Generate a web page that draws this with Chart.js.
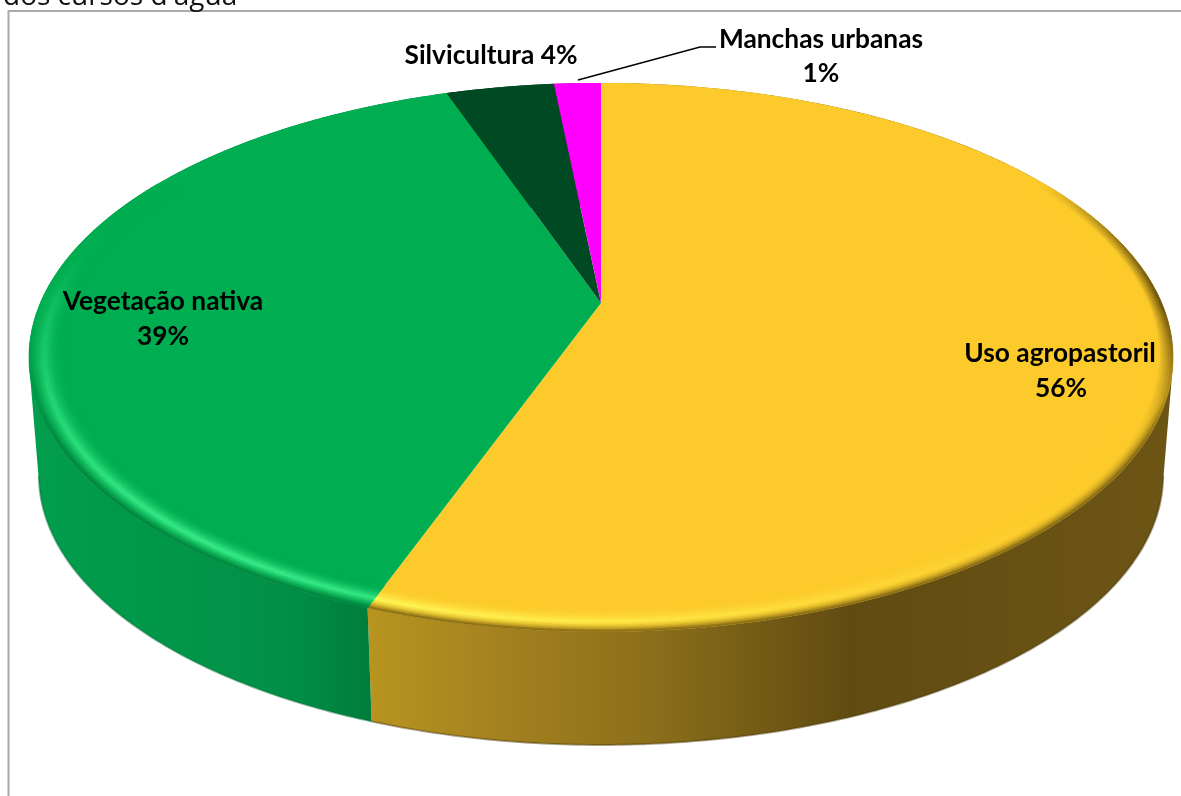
<!DOCTYPE html>
<html>
<head>
<meta charset="utf-8">
<title>Uso do solo</title>
<script src="https://cdn.jsdelivr.net/npm/chart.js@4/dist/chart.umd.min.js"></script>
<style>
  html, body { margin: 0; padding: 0; background: #fff; overflow: hidden; }
  canvas { display: block; }
</style>
</head>
<body>
<canvas id="pie" width="1181" height="796"></canvas>
<script>
// values (the printed labels are rounded)
const categories = ['Uso agropastoril', 'Vegetação nativa', 'Silvicultura', 'Manchas urbanas'];
const shares = [55.5, 39.2, 3.7, 1.6];
const printedPercent = ['56%', '39%', '4%', '1%'];
const sliceColors = ['#fccb2b', '#00ad50', '#004a23', '#ff00ff'];

// wall shading per slice, stops along the page width
const wallStops = [
  [[0.31, '#b8951f'], [0.42, '#a58220'], [0.55, '#8c6f1a'], [0.72, '#604b11'], [0.85, '#665013'], [1, '#6d5515']],
  [[0, '#03a04e'], [0.1, '#00994a'], [0.2, '#029348'], [0.26, '#008c44'], [0.315, '#007b3b']],
  [[0, '#003318'], [1, '#003318']],
  [[0, '#a000a0'], [1, '#a000a0']]
];
const edgeTint = [[255, 250, 90], [60, 240, 140], [0, 110, 55], [255, 120, 255]];
const edgeDark = [[74, 56, 8], [0, 110, 50], [0, 40, 20], [120, 0, 120]];

const view = { k: 0.198, a: 560.7, b: 263.7, x0: 601, y0: 303 };
const floorView = { k: 0.198, a: 551, b: 259, x0: 601, y0: 422 };
const bevel = 0.06;

function project(v, angle, r) {
  const cu = Math.cos(angle) * r, cv = Math.sin(angle) * r;
  const w = 1 - v.k * cv;
  return [v.x0 + v.a * cu / w, v.y0 + v.b * cv / w];
}

function hex(c) {
  const n = parseInt(c.slice(1), 16);
  return [n >> 16, (n >> 8) & 255, n & 255];
}

function clamp01(t) {
  return Math.max(0, Math.min(1, t));
}

function mix(a, b, t) {
  t = clamp01(t);
  return a.map((x, i) => x + (b[i] - x) * t);
}

function css(c) {
  return 'rgb(' + c.map(Math.round).join(',') + ')';
}

function rimPath(ctx, v, a0, a1, r, first) {
  const n = Math.max(2, Math.ceil(Math.abs(a1 - a0) / 0.01));
  for (let i = 0; i <= n; i++) {
    const p = project(v, a0 + (a1 - a0) * i / n, r);
    if (first && i === 0) ctx.moveTo(p[0], p[1]); else ctx.lineTo(p[0], p[1]);
  }
}

function drawWall(ctx, arc, i) {
  const grad = ctx.createLinearGradient(0, 0, 1181, 0);
  wallStops[i].forEach(s => grad.addColorStop(s[0], s[1]));
  // all quads go in one path, wound the same way, so no seams show
  const steps = Math.ceil((arc.endAngle - arc.startAngle) / 0.012);
  ctx.beginPath();
  for (let s = 0; s < steps; s++) {
    const a0 = arc.startAngle + (arc.endAngle - arc.startAngle) * s / steps;
    const a1 = arc.startAngle + (arc.endAngle - arc.startAngle) * (s + 1) / steps;
    let q = [project(view, a0, 1), project(view, a1, 1), project(floorView, a1, 1), project(floorView, a0, 1)];
    let area = 0;
    q.forEach((p, n) => {
      const o = q[(n + 1) % 4];
      area += p[0] * o[1] - o[0] * p[1];
    });
    if (area < 0) q = q.reverse();
    ctx.moveTo(q[0][0], q[0][1]);
    ctx.lineTo(q[1][0], q[1][1]);
    ctx.lineTo(q[2][0], q[2][1]);
    ctx.lineTo(q[3][0], q[3][1]);
    ctx.closePath();
  }
  ctx.fillStyle = grad;
  ctx.fill();
  // soft dark line along the front of the floor edge only
  const from = Math.max(arc.startAngle, 0.2), to = Math.min(arc.endAngle, Math.PI - 0.2);
  if (to > from) {
    ctx.beginPath();
    rimPath(ctx, floorView, from, to, 1, true);
    ctx.strokeStyle = 'rgba(' + edgeDark[i].join(',') + ',0.45)';
    ctx.lineWidth = 2;
    ctx.stroke();
  }
}

function drawTop(ctx, arc, i) {
  ctx.beginPath();
  ctx.moveTo(view.x0, view.y0);
  rimPath(ctx, view, arc.startAngle, arc.endAngle, 1, false);
  ctx.closePath();
  ctx.fillStyle = sliceColors[i];
  ctx.fill();
}

// rounded rim: lit towards the lower left, shaded towards the right
function drawBevel(ctx, arc, i) {
  const base = hex(sliceColors[i]);
  const rings = 14;
  const steps = Math.ceil((arc.endAngle - arc.startAngle) / 0.012);
  for (let s = 0; s < steps; s++) {
    const a0 = arc.startAngle + (arc.endAngle - arc.startAngle) * s / steps;
    const a1 = arc.startAngle + (arc.endAngle - arc.startAngle) * (s + 1) / steps;
    const mid = (a0 + a1) / 2;
    const u = Math.cos(mid), v = Math.sin(mid);
    const fade = clamp01((v + 0.5) / 0.5);
    if (fade <= 0) continue;
    const light = (-0.55 * u + 0.83 * v) * fade;
    const lit = light > 0 ? light * light : 0;
    const front = 0.75 * clamp01(v * 2);
    const shade = clamp01(-light * 1.6);
    for (let q = rings - 1; q >= 0; q--) {
      const p = (q + 0.5) / rings;
      const r0 = 1 - bevel * q / rings, r1 = 1 - bevel * (q + 1) / rings;
      const ridge = Math.max(0, 1 - Math.abs(p - 0.42) / 0.55);
      let col = mix(base, edgeTint[i], lit * ridge * ridge);
      // outer edge rolls over into the wall
      const roll = clamp01(1 - p / 0.4);
      col = mix(col, edgeDark[i], roll * Math.max(front * roll, shade));
      const a = project(view, a0, r0), b = project(view, a1, r0);
      const e = project(view, a1, r1), f = project(view, a0, r1);
      ctx.beginPath();
      ctx.moveTo(a[0], a[1]); ctx.lineTo(b[0], b[1]); ctx.lineTo(e[0], e[1]); ctx.lineTo(f[0], f[1]);
      ctx.closePath();
      ctx.fillStyle = css(col);
      ctx.strokeStyle = css(col);
      ctx.lineWidth = 0.6;
      ctx.fill();
      ctx.stroke();
    }
  }
}

const pie3d = {
  id: 'pie3d',
  beforeDatasetsDraw(chart) {
    const ctx = chart.ctx;
    const arcs = chart.getDatasetMeta(0).data.map(el =>
      el.getProps(['x', 'y', 'startAngle', 'endAngle', 'outerRadius']));
    ctx.save();
    arcs.forEach((arc, i) => drawWall(ctx, arc, i));
    arcs.forEach((arc, i) => drawTop(ctx, arc, i));
    arcs.forEach((arc, i) => drawBevel(ctx, arc, i));
    ctx.restore();
    return false; // the flat arcs are replaced by the tilted ones
  },
  afterDraw(chart) {
    const ctx = chart.ctx;
    ctx.save();
    // frame of the chart area
    ctx.strokeStyle = '#aaaaaa';
    ctx.lineWidth = 2;
    ctx.beginPath();
    ctx.moveTo(8.5, 796); ctx.lineTo(8.5, 11); ctx.lineTo(1181, 11);
    ctx.stroke();
    // caption cut off by the top of the page
    ctx.fillStyle = '#111';
    ctx.font = '28px "Open Sans"';
    ctx.textAlign = 'left';
    ctx.textBaseline = 'alphabetic';
    ctx.fillText('dos cursos d\'água', 3, 5);
    // leader line
    ctx.strokeStyle = '#000';
    ctx.lineWidth = 1.4;
    ctx.beginPath();
    ctx.moveTo(578, 80); ctx.lineTo(700, 47); ctx.lineTo(716, 47);
    ctx.stroke();
    // slice labels
    ctx.fillStyle = '#000';
    ctx.font = 'bold 26.3px Lato';
    ctx.textAlign = 'center';
    ctx.textBaseline = 'middle';
    ctx.fillText(categories[0], 1060, 353.5);
    ctx.fillText(printedPercent[0], 1061, 388.5);
    ctx.fillText(categories[1], 163, 301.5);
    ctx.fillText(printedPercent[1], 163, 336.5);
    ctx.fillText(categories[2] + ' ' + printedPercent[2], 491, 55.5);
    ctx.fillText(categories[3], 821, 39.5);
    ctx.fillText(printedPercent[3], 821, 73.5);
    ctx.restore();
  }
};

new Chart(document.getElementById('pie'), {
  type: 'pie',
  data: {
    labels: categories,
    datasets: [{ data: shares, backgroundColor: sliceColors, borderWidth: 0 }]
  },
  options: {
    responsive: false,
    animation: false,
    plugins: { legend: { display: false }, tooltip: { enabled: false } }
  },
  plugins: [pie3d]
});
</script>
</body>
</html>
